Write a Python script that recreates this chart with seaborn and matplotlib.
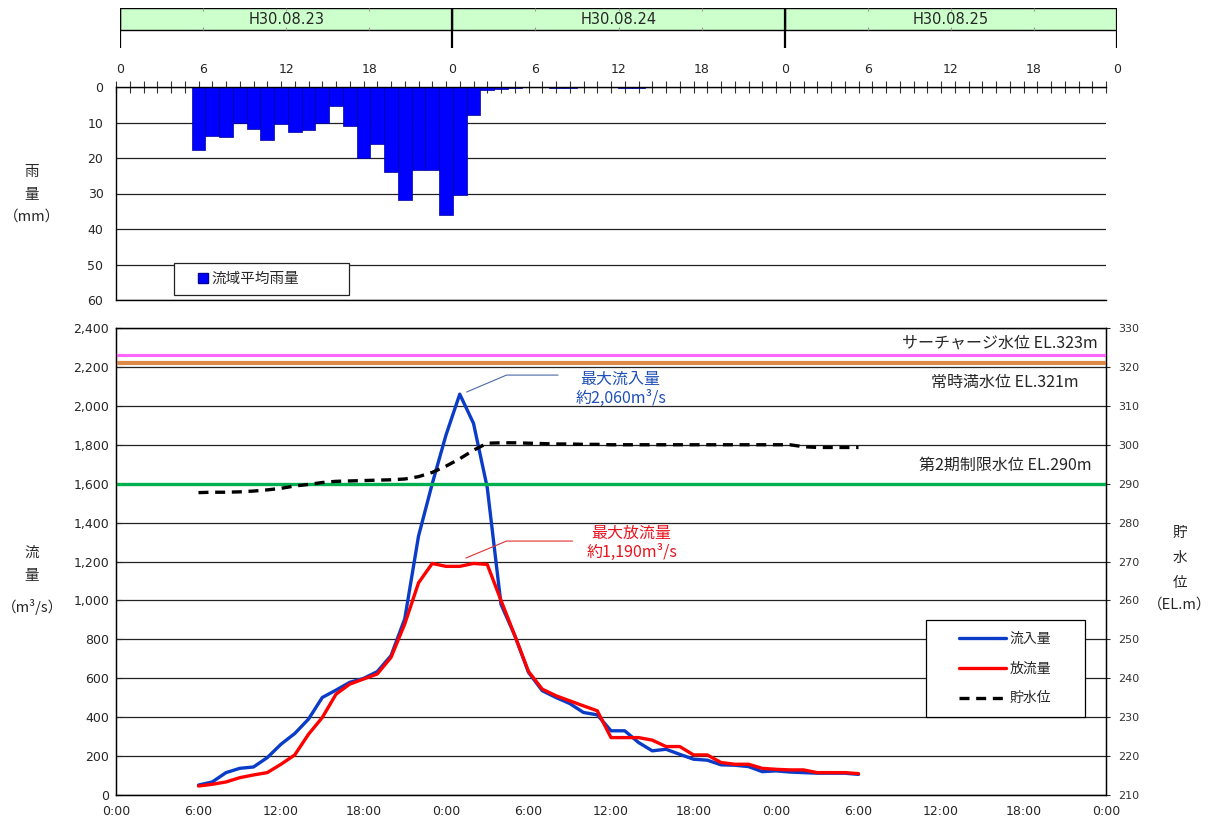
import matplotlib
matplotlib.use("Agg")
import matplotlib.pyplot as plt
from matplotlib.patches import Rectangle, Patch
import seaborn as sns

# ---------------- data ----------------
day_labels = ["H30.08.23", "H30.08.24", "H30.08.25"]
hour_tick_labels = ["0", "6", "12", "18"] * 3 + ["0"]
time_tick_labels = ["0:00", "6:00", "12:00", "18:00"] * 3 + ["0:00"]

rain_hours = [6, 7, 8, 9, 10, 11, 12, 13, 14, 15, 16, 17, 18, 19, 20, 21, 22, 23,
              24, 25, 26, 27, 28, 29, 32, 33, 37, 38]
rain_mm = [17.7, 13.9, 14.2, 10.2, 11.7, 14.9, 10.5, 12.8, 12.0, 10.2, 5.4, 11.1,
           20.0, 16.0, 24.0, 31.9, 23.5, 23.5, 36.0, 30.3, 7.8, 0.8, 0.5, 0.3,
           0.3, 0.3, 0.3, 0.3]

flow_hours = list(range(6, 55))
inflow = [51, 67, 115, 137, 144, 192, 261, 316, 390, 501,
          539, 579, 599, 634, 716, 905, 1330, 1600, 1850, 2060,
          1910, 1580, 980, 820, 630, 536, 501, 470, 424, 412,
          330, 330, 270, 227, 235, 209, 184, 179, 155, 153,
          146, 120, 124, 118, 115, 112, 112, 112, 106]
outflow = [46, 55, 67, 89, 103, 115, 158, 206, 312, 398,
           518, 570, 596, 622, 707, 879, 1090, 1190, 1175, 1175,
           1190, 1185, 1000, 820, 635, 544, 510, 484, 458, 433,
           295, 295, 295, 282, 249, 249, 206, 206, 167, 158,
           158, 137, 132, 129, 129, 115, 115, 115, 110]
level = [287.7, 287.8, 287.8, 287.9, 288.1, 288.4, 288.8, 289.4, 289.8, 290.3,
         290.6, 290.7, 290.8, 290.9, 291.0, 291.2, 291.8, 292.9, 294.5, 296.4,
         298.6, 300.4, 300.5, 300.5, 300.4, 300.3, 300.2, 300.2, 300.1, 300.1,
         300.0, 300.0, 300.0, 300.0, 300.0, 300.0, 300.0, 300.0, 300.0, 300.0,
         300.0, 300.0, 300.0, 300.0, 299.5, 299.3, 299.3, 299.3, 299.3]

q_ticks = list(range(0, 2401, 200))
el_ticks = list(range(210, 331, 10))
rain_ticks = list(range(0, 61, 10))

ref_levels = [323, 321, 290]
ref_names = ["サーチャージ水位 EL.323m", "常時満水位 EL.321m", "第2期制限水位 EL.290m"]
ref_colors = ["#ff66ff", "#dd8a48", "#00b050"]

peak_in_label = "最大流入量\n約2,060m³/s"
peak_out_label = "最大放流量\n約1,190m³/s"

# ---------------- style ----------------
sns.set_style("white")
plt.rcParams["font.family"] = ["DejaVu Sans", "Noto Sans CJK JP"]
JP = ["Noto Sans CJK JP", "DejaVu Sans"]

W, H = 1216, 827
fig = plt.figure(figsize=(W / 100, H / 100), dpi=100)


def fx(px):
    return px / W


def fy(py):
    return 1 - py / H


BLUE = "#0a3cc8"
RED = "#ff0000"

# ---------------- header ----------------
axh = fig.add_axes([fx(120), fy(48), fx(997), 40 / H])
axh.set_xlim(0, 72)
axh.set_ylim(0, 1)
for i, lab in enumerate(day_labels):
    axh.axvspan(24 * i, 24 * (i + 1), ymin=0.45, ymax=1.0, facecolor="#ccffcc",
                edgecolor="black", lw=1.0)
    axh.text(24 * i + 12, 0.725, lab, ha="center", va="center", fontsize=10.5)
for t in range(6, 72, 6):
    if t % 24:
        axh.vlines(t, 0.93, 1.0, color="#9a9a9a", lw=0.8)
        axh.vlines(t, 0.45, 0.52, color="#9a9a9a", lw=0.8)
axh.vlines([0, 24, 48, 72], 0, 1, color="black", lw=1.6)
for s in axh.spines.values():
    s.set_visible(False)
axh.set_yticks([])
axh.set_xticks(list(range(0, 73, 6)))
axh.set_xticklabels(hour_tick_labels, fontsize=9)
axh.tick_params(axis="x", length=0, pad=11)
axh.patch.set_alpha(0)

# ---------------- rain chart ----------------
axr = fig.add_axes([fx(116), fy(300), fx(990), 213 / H])
sns.barplot(x=rain_hours, y=rain_mm, native_scale=True, width=1.0, color="#0000ff",
            saturation=1, edgecolor="#00009a", linewidth=0.5, errorbar=None, ax=axr)
axr.set_xlim(0, 72)
axr.set_ylim(60, 0)
axr.set_yticks(rain_ticks)
axr.set_yticklabels([str(v) for v in rain_ticks], fontsize=9)
axr.yaxis.grid(True, color="#222222", lw=0.9)
axr.set_axisbelow(True)
axr.xaxis.tick_top()
axr.set_xticks(list(range(0, 73)))
axr.set_xticklabels([])
axr.tick_params(axis="x", direction="inout", length=8, width=0.8, color="#333333")
axr.tick_params(axis="y", direction="in", length=4, pad=9)
for s in ["left", "top", "bottom"]:
    axr.spines[s].set_color("black")
    axr.spines[s].set_linewidth(1.0)
axr.spines["right"].set_visible(False)
axr.set_xlabel("")
axr.set_ylabel("")
axr.add_patch(Rectangle((0.0586, 0.0235), 0.1768, 0.151, transform=axr.transAxes,
                        facecolor="white", edgecolor="#222222", lw=0.9, zorder=4))
leg_r = axr.legend(handles=[Patch(facecolor="#0000ff", edgecolor="#00009a")],
                   labels=["流域平均雨量"], loc="center", bbox_to_anchor=(0.134, 0.0986),
                   frameon=False, handlelength=0.65, handleheight=0.65,
                   handletextpad=0.25, prop={"family": JP, "size": 10.5})
leg_r.set_zorder(5)

# ---------------- flow chart ----------------
ax = fig.add_axes([fx(116), fy(795), fx(990), 467 / H])
sns.lineplot(x=flow_hours, y=inflow, ax=ax, color=BLUE, lw=2.4, legend=False)
sns.lineplot(x=flow_hours, y=outflow, ax=ax, color=RED, lw=2.4, legend=False)
l_in, l_out = ax.lines[0], ax.lines[1]
ax.set_xlim(0, 72)
ax.set_ylim(0, 2400)
ax.set_yticks(q_ticks)
ax.set_yticklabels([f"{v:,}" for v in q_ticks], fontsize=9)
ax.set_xticks(list(range(0, 73, 6)))
ax.set_xticklabels(time_tick_labels, fontsize=9)
ax.yaxis.grid(True, color="#222222", lw=0.9)
ax.set_axisbelow(True)
ax.tick_params(axis="x", direction="inout", length=7, pad=4)
ax.tick_params(axis="y", direction="in", length=4, pad=5)
for s in ax.spines.values():
    s.set_color("black")
    s.set_linewidth(1.0)
ax.set_xlabel("")
ax.set_ylabel("")

ax2 = ax.twinx()
for lv, c, w in zip(ref_levels, ref_colors, [2.2, 3.0, 2.4]):
    ax2.axhline(lv, color=c, lw=w, zorder=2)
sns.lineplot(x=flow_hours, y=level, ax=ax2, color="black", lw=2.4, legend=False,
             zorder=3)
l_lvl = ax2.lines[-1]
l_lvl.set_dashes((3, 2))
ax2.set_ylim(210, 330)
ax2.set_yticks(el_ticks)
ax2.set_yticklabels([str(v) for v in el_ticks], fontsize=8, color="#333333")
ax2.tick_params(axis="y", direction="out", length=3, pad=6)
ax2.set_ylabel("")
for s in ax2.spines.values():
    s.set_color("black")

# reference line labels
for name, yv, xr in zip(ref_names, [326.1, 315.9, 294.8], [0.992, 0.972, 0.985]):
    ax2.text(xr, yv, name, transform=ax2.get_yaxis_transform(), ha="right",
             va="center", fontsize=11.5, family=JP)

# peak annotations
ax.plot([25.5, 28.4, 32.15], [2071, 2158, 2158], color="#4a6aa8", lw=0.8, zorder=4)
ax.text(36.7, 2086, peak_in_label, ha="center", va="center", fontsize=11.5,
        color="#1f4fb8", family=JP, linespacing=1.15)
ax.plot([25.45, 28.4, 33.2], [1218, 1305, 1305], color="#e03030", lw=0.8, zorder=4)
ax.text(37.5, 1295, peak_out_label, ha="center", va="center", fontsize=11.5,
        color="#e8141e", family=JP, linespacing=1.15)

# legend
ax2.add_patch(Rectangle((0.8182, 0.167), 0.1606, 0.2077, transform=ax2.transAxes,
                        facecolor="white", edgecolor="black", lw=0.9, zorder=5))
leg = ax2.legend(handles=[l_in, l_out, l_lvl], labels=["流入量", "放流量", "貯水位"],
                 loc="center", bbox_to_anchor=(0.898, 0.271), frameon=False,
                 handlelength=3.4, handletextpad=0.2, labelspacing=1.15,
                 prop={"family": JP, "size": 10})
leg.set_zorder(6)

# axis titles
for txt, y in zip(["雨", "量", "（mm）"], [172, 195, 217]):
    fig.text(fx(32), fy(y), txt, ha="center", va="center", fontsize=10.5, family=JP)
for txt, y in zip(["流", "量", "（m³/s）"], [553, 576, 607]):
    fig.text(fx(32), fy(y), txt, ha="center", va="center", fontsize=10.5, family=JP)
for txt, y in zip(["貯", "水", "位", "（EL.m）"], [533, 558, 583, 605]):
    fig.text(fx(1180), fy(y), txt, ha="center", va="center", fontsize=10.5, family=JP)

fig.savefig("out.png", dpi=100)
